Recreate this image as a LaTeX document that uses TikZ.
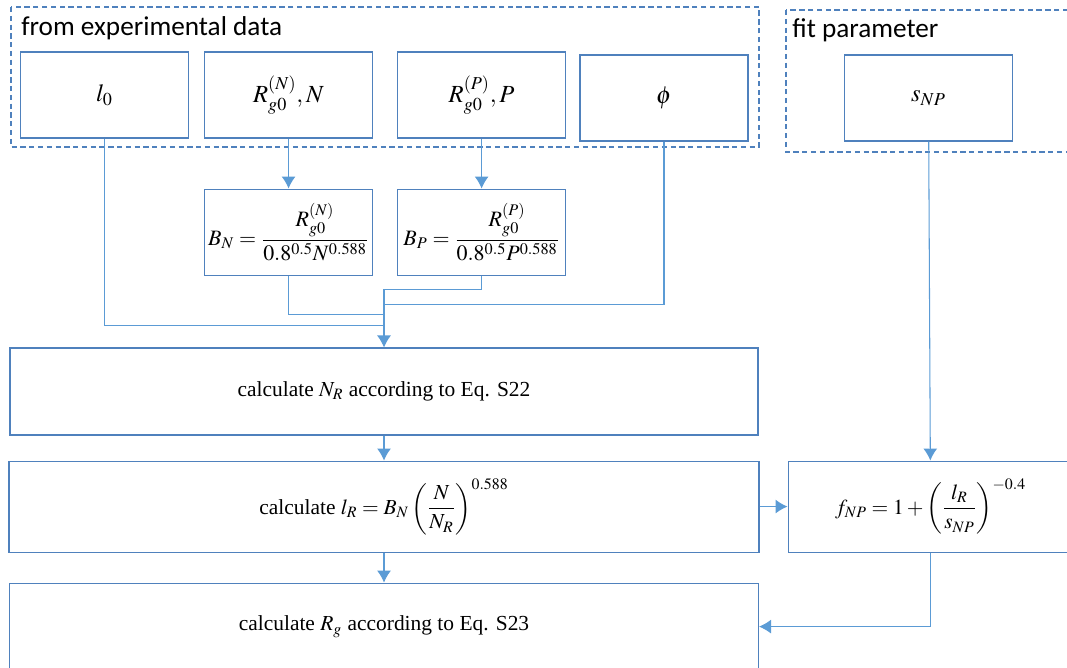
\documentclass[tikz,border=0pt]{standalone}
\usepackage{amsmath}
\usepackage{mathptmx}
\usepackage{fontspec}
\setmainfont{Liberation Serif}
\newfontfamily\headfont{Carlito}
\usetikzlibrary{calc}
\usetikzlibrary{positioning}
\usetikzlibrary{arrows.meta}
\definecolor{boxblue}{RGB}{79,129,189}
\definecolor{lineblue}{RGB}{91,155,213}
\tikzset{stepnode/.style={shape=rectangle, draw=boxblue, line width=0.6pt, inner sep=1pt, font=\fontsize{12.2}{15}\selectfont},
  inbox/.style={stepnode, minimum width=3.36cm, minimum height=1.72cm, font=\fontsize{14}{17}\selectfont},
  formbox/.style={inbox, font=\fontsize{12.5}{15}\selectfont},
  groupbox/.style={draw=boxblue, line width=0.6pt, dash pattern=on 3pt off 2pt},
  grouptitle/.style={anchor=west, inner sep=0pt, font=\headfont\fontsize{15.5}{18}\selectfont},
  link/.style={draw=lineblue, line width=0.6pt},
  flow/.style={link, -{Latex[length=2.4mm, width=2.8mm]}}}

\begin{document}
\begin{tikzpicture}
    \useasboundingbox (0,0) rectangle (21.34,-13.34);
    % the two input groups
    \draw[groupbox] (0.22,-0.14) rectangle (15.18,-2.94);
    \draw[groupbox] (15.72,-0.20) rectangle (21.50,-3.04);
    \node[grouptitle] (exptitle) at (0.42,-0.56) {from experimental data};
    \node[grouptitle] (fittitle) at (15.84,-0.60) {fit parameter};

    \node[inbox] (l0) at (2.09,-1.90) {$l_0$};
    \node[inbox, right=0.3cm of l0] (RN) {$R_{g0}^{(N)}, N$};
    \node[inbox, right=0.48cm of RN] (RP) {$R_{g0}^{(P)}, P$};
    \node[inbox] (phi) at (13.28,-1.96) {$\phi$};
    \node[inbox] (sNP) at (18.57,-1.96) {$s_{NP}$};
    \node[formbox, below=1cm of RN] (BN) {$B_N = \dfrac{R_{g0}^{(N)}}{0.8^{0.5}N^{0.588}}$};
    \node[formbox, below=1cm of RP] (BP) {$B_P = \dfrac{R_{g0}^{(P)}}{0.8^{0.5}P^{0.588}}$};

    \node[stepnode, minimum width=14.96cm, minimum height=1.74cm] (NR) at (7.68,-7.83)
      {calculate $N_R$ according to Eq. S22};
    \node[stepnode, minimum width=15cm, minimum height=1.82cm, below=0.5cm of NR] (lR)
      {calculate $l_R = B_N\left(\dfrac{N}{N_R}\right)^{0.588}$};
    \node[stepnode, minimum width=14.98cm, minimum height=1.74cm, below=0.6cm of lR] (Rg)
      {calculate $R_g$ according to Eq. S23};
    \node[stepnode, minimum width=5.7cm, minimum height=1.82cm, right=0.56cm of lR] (fNP)
      {$f_{NP} = 1 + \left(\dfrac{l_R}{s_{NP}}\right)^{-0.4}$};

    \coordinate (join) at ($(NR.north)+(0,1.16)$);
    \draw[flow] (RN) -- (BN);
    \draw[flow] (RP) -- (BP);
    \draw[link] (BP.south) |- (join);
    \draw[link] (phi.south) |- ($(join)+(0,-0.30)$);
    \draw[link] (BN.south) |- ($(join)+(0,-0.50)$);
    \draw[link] (l0.south) |- ($(join)+(0,-0.72)$);
    \draw[flow] (join) -- (NR.north);
    \draw[flow] (NR.south) -- (NR.south |- lR.north);
    \draw[flow] (NR.south |- lR.south) -- (NR.south |- Rg.north);
    \draw[flow] (lR) -- (fNP);
    \draw[flow] (sNP) -- (fNP);
    \draw[flow] (fNP.south) |- (Rg.east);
\end{tikzpicture}
\end{document}
